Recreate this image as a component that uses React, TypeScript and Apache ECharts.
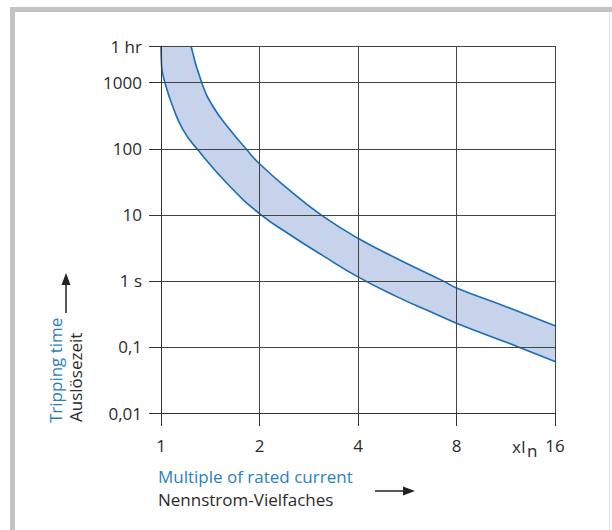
import React, { useEffect, useRef } from 'react';
import * as echarts from 'echarts';

// Multiples of rated current (x, log base 2) and tick values
const xTicks = [1, 2, 4, 8, 16];

// Tripping time (seconds) tick labels
const yTickValues = [0.01, 0.1, 1, 10, 100, 1000, 3600];
const yTickLabels = ['0,01', '0,1', '1 s', '10', '100', '1000', '1 hr'];

// Lower boundary of the tripping band: [multiple of In, time in s]
const lowerCurve: [number, number][] = [
  [1, 3600], [1.004, 1810], [1.0285, 1000], [1.086, 437], [1.168, 194],
  [1.288, 100], [1.625, 26.9], [2, 10.46], [2.479, 5.0], [3.133, 2.39],
  [4, 1.15], [5.252, 0.578], [6.64, 0.343], [8, 0.229], [12.36, 0.1], [16, 0.06],
];

// Upper boundary of the tripping band
const upperCurve: [number, number][] = [
  [1.235, 3600], [1.332, 1000], [1.442, 437], [1.625, 194], [1.819, 100],
  [2, 59.3], [2.479, 23.3], [3.083, 10], [4, 4.42], [5.252, 2.19],
  [7.275, 1], [8, 0.783], [11.39, 0.404], [16, 0.21],
];

// the band's top edge runs along 1 hr, from 1 x In to where the upper curve starts
const topEdge: [number, number][] = [[1, 3600], [upperCurve[0][0], 3600]];

const FONT = "'Open Sans', 'Liberation Sans', sans-serif";
const FS = 17;
const BLUE_TEXT = '#2a7fc3';
const DARK_TEXT = '#2b2b2b';
const LINE_BLUE = '#1a6db6';
const BAND = '#c6d3ea';
const SMOOTH = 0.5;

function yFormatter(v: number): string {
  let best = 0;
  const lv = Math.log10(v);
  for (let i = 1; i < yTickValues.length; i++) {
    if (Math.abs(lv - Math.log10(yTickValues[i])) < Math.abs(lv - Math.log10(yTickValues[best]))) best = i;
  }
  return yTickLabels[best];
}

function xFormatter(v: number): string {
  let best = xTicks[0];
  for (const t of xTicks) if (Math.abs(t - v) < Math.abs(best - v)) best = t;
  return String(best);
}

const option: any = {
  animation: false,
  backgroundColor: '#ffffff',
  grid: { left: 161, top: 46, right: 57, bottom: 117, containLabel: false },
  xAxis: {
    type: 'log',
    logBase: 2,
    min: 1,
    max: 16,
    z: 5,
    axisLine: { show: true, lineStyle: { color: '#333', width: 1 } },
    axisTick: { show: true, length: 13, lineStyle: { color: '#333', width: 1 } },
    axisLabel: { margin: 24, fontSize: FS, color: DARK_TEXT, fontFamily: FONT, formatter: xFormatter, showMinLabel: true, showMaxLabel: true },
    splitLine: { show: true, lineStyle: { color: '#444', width: 1 } },
    minorTick: { show: false },
    minorSplitLine: { show: false },
  },
  yAxis: {
    type: 'log',
    logBase: 10,
    min: 0.01,
    max: 3600,
    z: 5,
    axisLine: { show: true, lineStyle: { color: '#333', width: 1 } },
    axisTick: { show: true, length: 12, lineStyle: { color: '#333', width: 1 } },
    axisLabel: { margin: 19, fontSize: FS, color: DARK_TEXT, fontFamily: FONT, formatter: yFormatter, showMinLabel: true, showMaxLabel: true },
    splitLine: { show: true, lineStyle: { color: '#444', width: 1 } },
    minorTick: { show: false },
    minorSplitLine: { show: false },
  },
  series: [
    {
      // column of the band left of where the upper curve starts
      type: 'line',
      data: topEdge,
      symbol: 'none',
      lineStyle: { opacity: 0, width: 0 },
      areaStyle: { color: BAND, opacity: 1, origin: 'start' },
      z: 1,
      silent: true,
    },
    {
      // band fill under the upper curve
      type: 'line',
      data: upperCurve,
      smooth: SMOOTH,
      smoothConstraint: false,
      symbol: 'none',
      lineStyle: { opacity: 0, width: 0 },
      areaStyle: { color: BAND, opacity: 1, origin: 'start' },
      z: 1,
      silent: true,
    },
    {
      type: 'line',
      data: lowerCurve,
      smooth: SMOOTH,
      smoothConstraint: false,
      symbol: 'none',
      lineStyle: { color: LINE_BLUE, width: 1.6 },
      areaStyle: { color: '#ffffff', opacity: 1, origin: 'start' },
      z: 2,
      silent: true,
    },
    {
      type: 'line',
      data: upperCurve,
      smooth: SMOOTH,
      smoothConstraint: false,
      symbol: 'none',
      lineStyle: { color: LINE_BLUE, width: 1.6 },
      z: 2,
      silent: true,
    },
  ],
  graphic: [
    { type: 'rect', silent: true, shape: { x: 10, y: 7, width: 602, height: 5 }, style: { fill: '#c3c3c3' } },
    { type: 'rect', silent: true, shape: { x: 10, y: 7, width: 5, height: 523 }, style: { fill: '#c3c3c3' } },
    { type: 'line', silent: true, shape: { x1: 609.5, y1: 12, x2: 609.5, y2: 530 }, style: { stroke: '#e4e4e4', lineWidth: 1 } },
    {
      type: 'text', silent: true, x: 55, y: 423, rotation: Math.PI / 2,
      style: { text: 'Tripping time', fill: BLUE_TEXT, fontSize: FS, fontFamily: FONT, align: 'left', verticalAlign: 'middle' },
    },
    {
      type: 'text', silent: true, x: 75, y: 422, rotation: Math.PI / 2,
      style: { text: 'Auslösezeit', fill: DARK_TEXT, fontSize: FS, fontFamily: FONT, align: 'left', verticalAlign: 'middle' },
    },
    { type: 'line', silent: true, shape: { x1: 66, y1: 313, x2: 66, y2: 283 }, style: { stroke: '#222', lineWidth: 1.5 } },
    { type: 'polygon', silent: true, shape: { points: [[61.5, 285], [66, 273], [70.5, 285]] }, style: { fill: '#222' } },
    {
      type: 'text', silent: true, x: 158, y: 476,
      style: { text: 'Multiple of rated current', fill: BLUE_TEXT, fontSize: FS, fontFamily: FONT, align: 'left', verticalAlign: 'middle' },
    },
    {
      type: 'text', silent: true, x: 158, y: 499,
      style: { text: 'Nennstrom-Vielfaches', fill: DARK_TEXT, fontSize: FS, fontFamily: FONT, align: 'left', verticalAlign: 'middle' },
    },
    { type: 'line', silent: true, shape: { x1: 375, y1: 491, x2: 405, y2: 491 }, style: { stroke: '#222', lineWidth: 1.5 } },
    { type: 'polygon', silent: true, shape: { points: [[403, 486.5], [415, 491], [403, 495.5]] }, style: { fill: '#222' } },
    {
      type: 'text', silent: true, x: 512, y: 446.5,
      style: { text: 'xI', fill: DARK_TEXT, fontSize: FS, fontFamily: FONT, align: 'left', verticalAlign: 'middle' },
    },
    {
      type: 'text', silent: true, x: 527, y: 450,
      style: { text: 'n', fill: DARK_TEXT, fontSize: FS, fontFamily: FONT, align: 'left', verticalAlign: 'middle' },
    },
  ],
};

export default function App() {
  const ref = useRef<HTMLDivElement>(null);
  useEffect(() => {
    if (!ref.current) return;
    const chart = echarts.init(ref.current, null, { renderer: 'svg' });
    chart.setOption(option);
    return () => chart.dispose();
  }, []);
  return (
    <div
      ref={ref}
      style={{ position: 'fixed', left: 0, top: 0, width: 612, height: 530, background: '#ffffff' }}
    />
  );
}
